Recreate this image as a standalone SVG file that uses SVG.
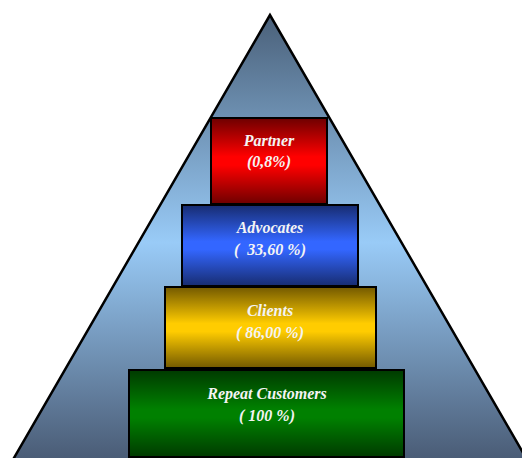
<svg xmlns="http://www.w3.org/2000/svg" width="522" height="458" viewBox="0 0 522 458">
<defs>
<linearGradient id="gTri" x1="0" y1="15" x2="0" y2="470" gradientUnits="userSpaceOnUse">
<stop offset="0" stop-color="#4a6079"/>
<stop offset="0.5" stop-color="#99cbf7"/>
<stop offset="1" stop-color="#46566f"/>
</linearGradient>
<linearGradient id="gRed" x1="0" y1="0" x2="0" y2="1">
<stop offset="0" stop-color="#6e0000"/>
<stop offset="0.45" stop-color="#ff0000"/>
<stop offset="0.55" stop-color="#ff0000"/>
<stop offset="1" stop-color="#6e0000"/>
</linearGradient>
<linearGradient id="gBlue" x1="0" y1="0" x2="0" y2="1">
<stop offset="0" stop-color="#172c70"/>
<stop offset="0.45" stop-color="#3366ff"/>
<stop offset="0.55" stop-color="#3366ff"/>
<stop offset="1" stop-color="#172c70"/>
</linearGradient>
<linearGradient id="gYel" x1="0" y1="0" x2="0" y2="1">
<stop offset="0" stop-color="#735900"/>
<stop offset="0.45" stop-color="#ffcc00"/>
<stop offset="0.55" stop-color="#ffcc00"/>
<stop offset="1" stop-color="#735900"/>
</linearGradient>
<linearGradient id="gGrn" x1="0" y1="0" x2="0" y2="1">
<stop offset="0" stop-color="#003a00"/>
<stop offset="0.45" stop-color="#008000"/>
<stop offset="0.55" stop-color="#008000"/>
<stop offset="1" stop-color="#003a00"/>
</linearGradient>
</defs>
<style>
.box{stroke:#000;stroke-width:2}
.t{font-family:"Liberation Serif","Times New Roman",serif;font-size:16px;font-weight:bold;font-style:italic;fill:#f4f4f4;text-anchor:middle;white-space:pre}
</style>
<rect width="522" height="458" fill="#fff"/>
<polygon id="pyramid" points="270,15 7,470 533,470" fill="url(#gTri)" stroke="#000" stroke-width="2.5" stroke-linejoin="miter"/>
<g id="connectors"></g>
<g id="partner">
<rect class="box" x="211" y="118" width="116" height="86" fill="url(#gRed)"/>
<text class="t" x="269" y="146">Partner</text>
<text class="t" x="269" y="167">(0,8%)</text>
</g>
<g id="advocates">
<rect class="box" x="182" y="205" width="176" height="81" fill="url(#gBlue)"/>
<text class="t" x="270" y="233">Advocates</text>
<text class="t" x="270" y="255" xml:space="preserve">(  33,60 %)</text>
</g>
<g id="clients">
<rect class="box" x="165" y="287" width="211" height="81" fill="url(#gYel)"/>
<text class="t" x="270" y="316">Clients</text>
<text class="t" x="270" y="338">( 86,00 %)</text>
</g>
<g id="repeat">
<rect class="box" x="129" y="370" width="275" height="87" fill="url(#gGrn)"/>
<text class="t" x="267" y="399">Repeat Customers</text>
<text class="t" x="267" y="421">( 100 %)</text>
</g>
</svg>
